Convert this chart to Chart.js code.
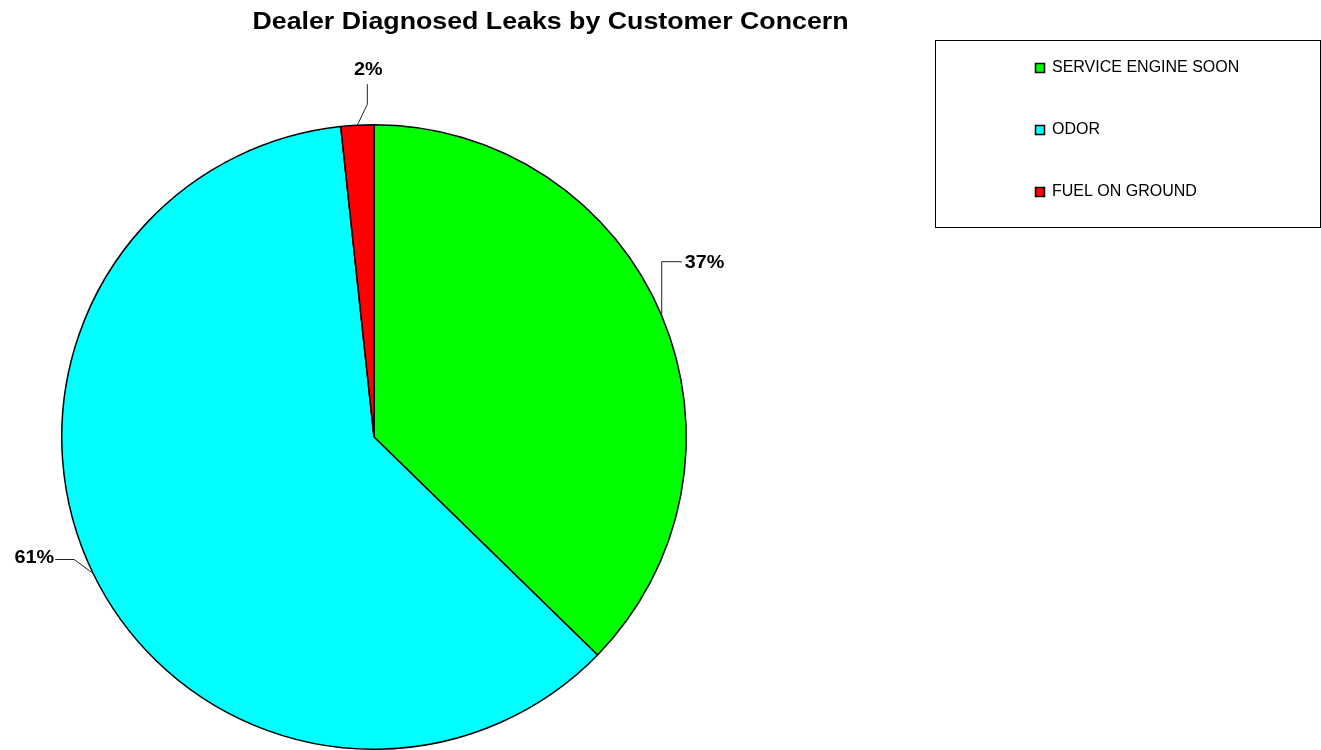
<!DOCTYPE html>
<html>
<head>
<meta charset="utf-8">
<script src="https://cdn.jsdelivr.net/npm/chart.js@4.4.0/dist/chart.umd.min.js"></script>
<style>
    html, body { margin: 0; padding: 0; background: #fff; overflow: hidden; }
    canvas { display: block; }
</style>
</head>
<body>
<canvas id="leakChart" width="1321" height="750"></canvas>
<script>
const concerns = ['SERVICE ENGINE SOON', 'ODOR', 'FUEL ON GROUND'];
const leakShare = [37.3, 61.0, 1.7];
const sliceColors = ['#00ff00', '#00ffff', '#ff0000'];
const chartTitle = 'Dealer Diagnosed Leaks by Customer Concern';

// where each percent label sits, relative to the slice's mid point on the rim
const leaderLines = [
    { elbow: [0, -54], end: [20, -54], align: 'left' },
    { elbow: [-19, -14], end: [-38, -14], align: 'right' },
    { elbow: [10, -21], end: [10, -41], align: 'center' }
];

// draws a string stretched horizontally to a given width
function stretchText(ctx, text, x, y, font, stretch, align) {
    ctx.save();
    ctx.font = font;
    const w = ctx.measureText(text).width * stretch;
    let left = x;
    if (align === 'center') left = x - w / 2;
    if (align === 'right') left = x - w;
    ctx.translate(left, y);
    ctx.scale(stretch, 1);
    ctx.textAlign = 'left';
    ctx.fillText(text, 0, 0);
    ctx.restore();
}

const excelLook = {
    id: 'excelLook',
    afterDraw(chart) {
        const ctx = chart.ctx;
        const meta = chart.getDatasetMeta(0);
        const values = chart.data.datasets[0].data;
        const total = values.reduce((a, b) => a + b, 0);

        // title
        ctx.fillStyle = '#000';
        ctx.textBaseline = 'alphabetic';
        ctx.font = 'bold 23px "Liberation Sans", Arial, sans-serif';
        const tw = ctx.measureText(chartTitle).width;
        stretchText(ctx, chartTitle, 550.5, 29, ctx.font, 596 / tw, 'center');

        // percent labels with leader lines
        meta.data.forEach((arc, i) => {
            const p = arc.getProps(['x', 'y', 'startAngle', 'endAngle', 'outerRadius'], true);
            const mid = (p.startAngle + p.endAngle) / 2;
            const ax = p.x + Math.cos(mid) * p.outerRadius;
            const ay = p.y + Math.sin(mid) * p.outerRadius;
            const l = leaderLines[i];
            const ex = ax + l.elbow[0], ey = ay + l.elbow[1];
            const fx = ax + l.end[0], fy = ay + l.end[1];
            ctx.save();
            ctx.strokeStyle = '#222';
            ctx.lineWidth = 1;
            ctx.beginPath();
            ctx.moveTo(ax, ay);
            ctx.lineTo(ex, ey);
            ctx.lineTo(fx, fy);
            ctx.stroke();
            ctx.restore();

            const txt = Math.round(values[i] / total * 100) + '%';
            const font = 'bold 18px "Liberation Sans", Arial, sans-serif';
            ctx.fillStyle = '#000';
            if (l.align === 'center') {
                ctx.textBaseline = 'alphabetic';
                stretchText(ctx, txt, fx + 1, fy - 9, font, 1.1, 'center');
            } else if (l.align === 'left') {
                ctx.textBaseline = 'middle';
                stretchText(ctx, txt, fx + 3, fy + 1, font, 1.1, 'left');
            } else {
                ctx.textBaseline = 'middle';
                stretchText(ctx, txt, fx - 1, fy - 1, font, 1.1, 'right');
            }
        });

        // legend box
        ctx.save();
        ctx.strokeStyle = '#000';
        ctx.lineWidth = 1;
        ctx.strokeRect(935.5, 40.5, 385, 187);
        ctx.font = '16px "Liberation Sans", Arial, sans-serif';
        ctx.textBaseline = 'middle';
        ctx.textAlign = 'left';
        chart.data.labels.forEach((lab, i) => {
            const y = 68 + i * 62;
            ctx.fillStyle = sliceColors[i];
            ctx.fillRect(1035, y - 5, 10, 10);
            ctx.lineWidth = 1.5;
            ctx.strokeRect(1035.5, y - 4.5, 9, 9);
            ctx.fillStyle = '#000';
            ctx.fillText(lab, 1052, y);
        });
        ctx.restore();
    }
};

new Chart(document.getElementById('leakChart'), {
    type: 'pie',
    data: {
        labels: concerns,
        datasets: [{
            data: leakShare,
            backgroundColor: sliceColors,
            borderColor: '#000',
            borderWidth: 1.5
        }]
    },
    options: {
        responsive: false,
        animation: false,
        layout: { padding: { left: 61, right: 634, top: 124, bottom: 0 } },
        plugins: {
            legend: { display: false },
            title: { display: false },
            tooltip: { enabled: false }
        }
    },
    plugins: [excelLook]
});
</script>
</body>
</html>
